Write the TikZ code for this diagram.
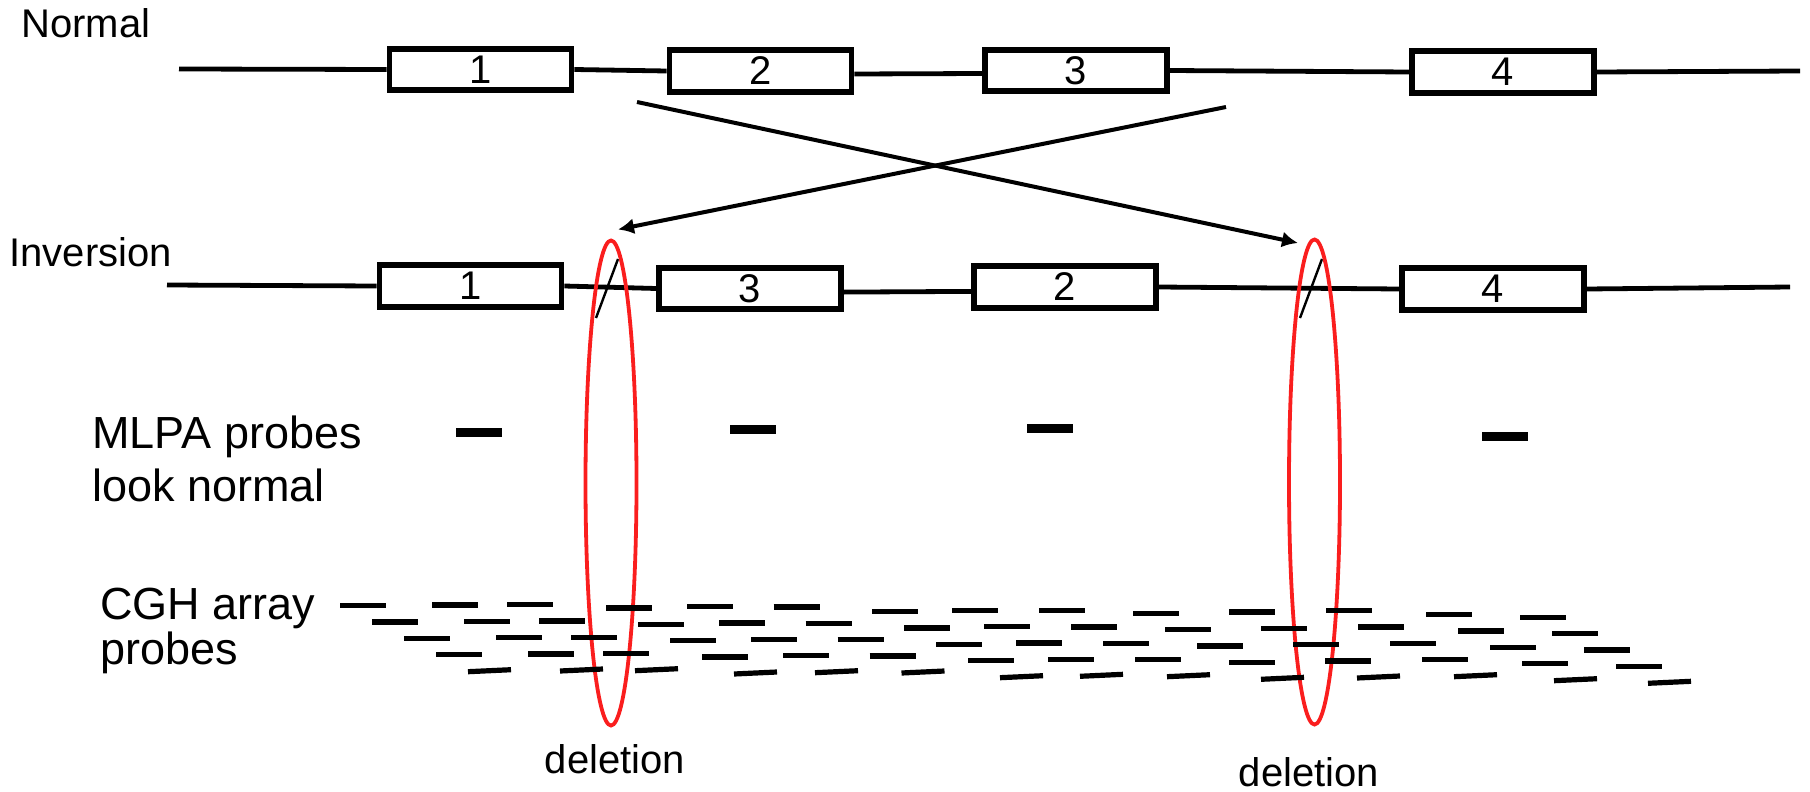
\documentclass[tikz,border=0pt]{standalone}
\usepackage{fontspec}
\setmainfont{Liberation Sans}
\usetikzlibrary{shapes.geometric,arrows.meta,calc}
\definecolor{breakred}{RGB}{250,30,30}

\begin{document}
\begin{tikzpicture}[x=0.5pt,y=-0.5pt,
  exon/.style={draw, line width=2.9pt, minimum width=91pt, minimum height=20.8pt,
    inner sep=0pt, font=\fontsize{20}{24}\selectfont},
  dna/.style={line width=2.4pt},
  swap/.style={line width=2pt, -{Latex[length=8pt,width=8pt]}},
  lbl/.style={anchor=base west, inner sep=0pt, font=\fontsize{20}{24}\selectfont},
  biglbl/.style={anchor=base west, inner sep=0pt, align=left},
  breakpt/.style={draw=breakred, line width=1.9pt, ellipse, minimum width=25.5pt,
    minimum height=242.5pt, inner sep=0pt},
  cut/.style={line width=1.2pt},
  mlpa/.style={fill=black, minimum width=23pt, minimum height=4.5pt, inner sep=0pt},
  cgh/.style={line width=2.6pt},
]
\useasboundingbox (0,0) rectangle (1810,792);

% row labels (multi-line labels are anchored at their last baseline)
\node[lbl] (normal) at (21,38) {Normal};
\node[lbl] (inversion) at (9,266) {Inversion};
\node[biglbl, font=\fontsize{22.5}{26.5}\selectfont] (mlpatext) at (92,501) {MLPA probes\\look normal};
\node[biglbl, font=\fontsize{22.5}{22.5}\selectfont] (cghtext) at (100,664) {CGH array\\probes};

% normal gene order
\node[exon] (t1) at (480.5,69.5) {1};
\node[exon] (t2) at (760.5,71) {2};
\node[exon] (t3) at (1076,70.5) {3};
\node[exon] (t4) at (1503,72) {4};
\coordinate (tl) at (179,69);
\coordinate (tr) at (1800,71);
\draw[dna] (tl) -- (t1.west);
\draw[dna] (t1.east) -- (t2.west);
\draw[dna] ([yshift=-1.5pt]t2.east) -- ([yshift=-1.5pt]t3.west);
\draw[dna] (t3.east) -- (t4.west);
\draw[dna] (t4.east) -- (tr);

% inverted gene order
\node[exon] (b1) at (470.5,286) {1};
\node[exon] (b3) at (750,288.5) {3};
\node[exon] (b2) at (1065,287) {2};
\node[exon] (b4) at (1493,289) {4};
\coordinate (bl) at (167,285);
\coordinate (br) at (1790,287);
\draw[dna] (bl) -- (b1.west);
\draw[dna] (b1.east) -- (b3.west);
\draw[dna] ([yshift=-1.8pt]b3.east) -- ([yshift=-2.2pt]b2.west);
\draw[dna] (b2.east) -- (b4.west);
\draw[dna] (b4.east) -- (br);

% swapped segment arrows
\coordinate (sa) at (637,102);
\coordinate (ea) at (1298,243);
\coordinate (sb) at (1226,107);
\coordinate (eb) at (618,229.5);
\draw[swap] (sa) -- (ea);
\draw[swap] (sb) -- (eb);

% breakpoints
\draw[cut] (618,259) -- (596,318);
\draw[cut] (1322,259) -- (1300,318);
\node[breakpt] (del1) at (611,483) {};
\node[breakpt] (del2) at (1314.5,482) {};
\node[lbl, anchor=base] (dl1) at (615,773) {deletion};
\node[lbl, anchor=base] (dl2) at (1309,786) {deletion};

% MLPA probes
\node[mlpa] (p1) at (479,432) {};
\node[mlpa] (p2) at (753,429) {};
\node[mlpa] (p3) at (1050,428.5) {};
\node[mlpa] (p4) at (1505,436) {};

% CGH array probes: diagonal groups of five
\foreach \gx/\gy in {340/605.7, 432/605, 507/604.7, 606/608, 687/606.7, 773.5/607,
    872/611.7, 952/610.3, 1039/610.7, 1133/613.3, 1229/612, 1326/610.7, 1426/614.7, 1520/617.3} {
  \foreach \k in {0,...,3} {
    \draw[cgh] ({\gx+32*\k},{\gy+16.3*\k}) -- ++(46,0);
  }
  \draw[cgh] ({\gx+128},{\gy+66}) -- ++(43,-2);
}
\end{tikzpicture}
\end{document}
